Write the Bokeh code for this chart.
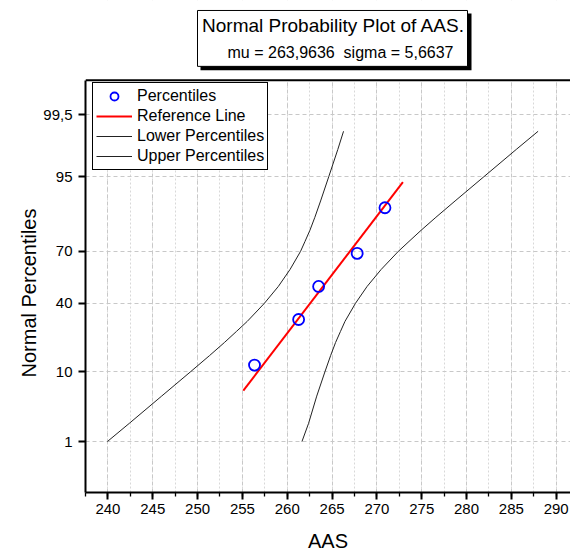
import math
from bokeh.plotting import figure
from bokeh.models import (Range1d, LinearAxis, FixedTicker, SingleIntervalTicker,
                          CustomJSTickFormatter, Legend, LegendItem, Grid, Title)
from bokeh.core.properties import value
from bokeh.embed import file_html
from bokeh.resources import INLINE

# ---------------- data ----------------
aas_values = [256.35, 261.27, 263.5, 267.8, 270.9]
aas_percentiles = [11.9, 31.0, 50.0, 69.0, 88.1]

ref_line_x = [255.1, 272.9]
ref_line_pct = [5.9, 94.1]

band_pct = [1, 2, 5, 10, 15, 20, 25, 30, 40, 50, 60, 70, 75, 80, 85, 90, 95, 98, 99]
lower_band_x = [239.94, 242.38, 245.99, 249.20, 251.34, 252.99, 254.34, 255.54,
                257.45, 259.01, 260.31, 261.48, 261.98, 262.53, 263.08, 263.72,
                264.63, 265.64, 266.28]
upper_band_x = [261.64, 262.38, 263.29, 264.20, 264.84, 265.39, 265.94, 266.44,
                267.61, 268.91, 270.47, 272.38, 273.58, 274.93, 276.58, 278.72,
                281.93, 285.54, 287.98]

y_tick_pct = [1, 10, 40, 70, 95, 99.5]
y_tick_labels = ["1", "10", "40", "70", "95", "99,5"]

title_text = "Normal Probability Plot of AAS."
subtitle_text = "mu = 263,9636\u00a0\u00a0sigma = 5,6637"


# ---------------- probability (probit) scale ----------------
def probit(pct):
    p = pct / 100.0
    lo, hi = -10.0, 10.0
    for _ in range(200):
        mid = 0.5 * (lo + hi)
        if 0.5 * (1.0 + math.erf(mid / math.sqrt(2.0))) < p:
            lo = mid
        else:
            hi = mid
    return 0.5 * (lo + hi)


FONT = "Liberation Sans"

W, H = 570, 554
LEFT, BOTTOM = 85, 61
BOX_TOP = 80                        # canvas y of the top of the plot box
frame_w = W - LEFT
plot_h = H - BOTTOM - BOX_TOP       # height of the plot box
x_start = 237.5
px_per_unit = 8.966
z_bot, z_top = probit(0.1), probit(99.9)
px_per_z = plot_h / (z_top - z_bot)


def cx(X):   # canvas px -> data x
    return x_start + (X - LEFT) / px_per_unit


def cy(Y):   # canvas px (from top) -> data z
    return z_top + (BOX_TOP - Y) / px_per_z


p = figure(width=W, height=H, output_backend="svg", toolbar_location=None,
           title=None,
           x_range=Range1d(x_start, cx(W)),
           y_range=Range1d(z_bot, cy(0)),
           x_axis_type=None, y_axis_type=None,
           min_border_left=LEFT, min_border_right=0,
           min_border_top=0, min_border_bottom=BOTTOM)
p.outline_line_color = None
p.background_fill_color = "white"
p.border_fill_color = "white"

xaxis = LinearAxis(ticker=SingleIntervalTicker(interval=5, num_minor_ticks=2),
                   axis_label="AAS")
xaxis.axis_line_width = 2
xaxis.major_tick_line_width = 2
xaxis.major_tick_out = 7
xaxis.major_tick_in = 0
xaxis.minor_tick_out = 4
xaxis.minor_tick_in = 0
xaxis.minor_tick_line_width = 1.3
xaxis.major_label_text_font = FONT
xaxis.major_label_text_font_size = "15px"
xaxis.major_label_text_color = "black"
xaxis.major_label_standoff = 4
xaxis.axis_label_text_font = FONT
xaxis.axis_label_text_font_size = "20px"
xaxis.axis_label_text_font_style = "normal"
xaxis.axis_label_text_color = "black"
xaxis.axis_label_standoff = 13
p.add_layout(xaxis, "below")

y_ticks = [probit(v) for v in y_tick_pct]
yaxis = LinearAxis(ticker=FixedTicker(ticks=y_ticks, minor_ticks=[]),
                   bounds=(z_bot, z_top))
yaxis.formatter = CustomJSTickFormatter(args=dict(zs=y_ticks, labels=y_tick_labels), code="""
    let best = ''; let bd = 1e9;
    for (let i = 0; i < zs.length; i++) {
        const d = Math.abs(tick - zs[i]);
        if (d < bd) { bd = d; best = labels[i]; }
    }
    return best;
""")
yaxis.axis_line_width = 2
yaxis.major_tick_line_width = 2
yaxis.major_tick_out = 7
yaxis.major_tick_in = 0
yaxis.minor_tick_out = 0
yaxis.major_label_text_font = FONT
yaxis.major_label_text_font_size = "15px"
yaxis.major_label_text_color = "black"
yaxis.major_label_standoff = 6
p.add_layout(yaxis, "left")

# y-axis title, centred on the plot box (not on the whole frame)
ylabel = Title(text="Normal Percentiles", align="left", offset=115,
               text_font=FONT, text_font_size="20px", text_font_style="normal",
               text_color="black", standoff=2)
p.add_layout(ylabel, "left")

xgrid = Grid(dimension=0, ticker=xaxis.ticker)
xgrid.grid_line_color = "#c8c8c8"
xgrid.grid_line_dash = "4 3"
xgrid.grid_line_width = 1
xgrid.minor_grid_line_color = "#d8d8d8"
xgrid.minor_grid_line_dash = "2 2"
xgrid.minor_grid_line_width = 1
p.add_layout(xgrid)

ygrid = Grid(dimension=1, ticker=yaxis.ticker)
ygrid.grid_line_color = "#c8c8c8"
ygrid.grid_line_dash = "4 3"
ygrid.grid_line_width = 1
p.add_layout(ygrid)

# white strip above the plot box (title area) and the top edge of the box
p.quad(left=[cx(LEFT - 2)], right=[cx(W + 2)], bottom=[z_top], top=[cy(-2)],
       fill_color="white", line_color=None)
p.segment(x0=[cx(LEFT)], y0=[z_top], x1=[cx(W + 2)], y1=[z_top],
          line_color="black", line_width=2)

# title box with drop shadow
p.quad(left=[cx(200)], right=[cx(471)], top=[cy(13)], bottom=[cy(70)],
       fill_color="black", line_color=None)
p.quad(left=[cx(197)], right=[cx(467)], top=[cy(10)], bottom=[cy(66)],
       fill_color="white", line_color="black", line_width=1)
p.text(x=[cx(333)], y=[cy(25)], text=[title_text], text_align="center",
       text_baseline="middle", text_font=value(FONT), text_font_size="19px",
       text_color="black")
p.text(x=[cx(340)], y=[cy(52)], text=[subtitle_text], text_align="center",
       text_baseline="middle", text_font=value(FONT), text_font_size="16px",
       text_color="black")

# data
band_z = [probit(v) for v in band_pct]
lower_r = p.line(lower_band_x, band_z, line_color="#222222", line_width=1)
upper_r = p.line(upper_band_x, band_z, line_color="#222222", line_width=1)
ref_r = p.line(ref_line_x, [probit(v) for v in ref_line_pct],
               line_color="red", line_width=2)
pts_r = p.scatter(aas_values, [probit(v) for v in aas_percentiles],
                  marker="circle", size=11, fill_color=None,
                  line_color="blue", line_width=1.8)

legend = Legend(items=[
    LegendItem(label="Percentiles", renderers=[pts_r]),
    LegendItem(label="Reference Line", renderers=[ref_r]),
    LegendItem(label="Lower Percentiles", renderers=[lower_r]),
    LegendItem(label="Upper Percentiles", renderers=[upper_r]),
])
legend.location = (7, 322)
legend.border_line_color = "black"
legend.border_line_width = 1
legend.border_line_alpha = 1
legend.background_fill_color = "white"
legend.background_fill_alpha = 1
legend.padding = 3
legend.spacing = 0
legend.margin = 0
legend.glyph_width = 36
legend.glyph_height = 20
legend.label_height = 20
legend.label_standoff = 5
legend.label_text_font = FONT
legend.label_text_font_size = "16px"
legend.label_text_color = "black"
p.add_layout(legend, "center")

open("out.html", "w").write(file_html(p, INLINE))
